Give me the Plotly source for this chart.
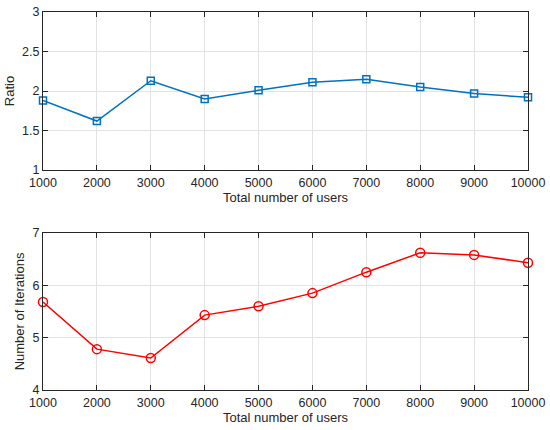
import plotly.graph_objects as go
from plotly.subplots import make_subplots

users = [1000, 2000, 3000, 4000, 5000, 6000, 7000, 8000, 9000, 10000]
ratio = [1.88, 1.62, 2.13, 1.90, 2.01, 2.11, 2.15, 2.05, 1.97, 1.92]
iterations = [5.68, 4.78, 4.61, 5.43, 5.60, 5.85, 6.25, 6.62, 6.58, 6.43]
x_ticks = users
top_y_ticks = [1, 1.5, 2, 2.5, 3]
bot_y_ticks = [4, 5, 6, 7]

FONT = "Liberation Sans, Arial, Helvetica, sans-serif"
AX = "#262626"
GRID = "#e3e3e3"

fig = make_subplots(rows=2, cols=1)

fig.add_trace(go.Scatter(x=users, y=ratio, mode="lines+markers",
                         line=dict(color="#0072BD", width=1.5),
                         marker=dict(symbol="square-open", size=7, color="#0072BD",
                                     line=dict(width=1.5, color="#0072BD")),
                         cliponaxis=False, showlegend=False), row=1, col=1)
fig.add_trace(go.Scatter(x=users, y=iterations, mode="lines+markers",
                         line=dict(color="#FF0000", width=1.5),
                         marker=dict(symbol="circle-open", size=9, color="#FF0000",
                                     line=dict(width=1.5, color="#FF0000")),
                         cliponaxis=False, showlegend=False), row=2, col=1)

common_x = dict(range=[1000, 10000], tickvals=x_ticks, ticktext=[str(v) for v in x_ticks],
                showline=True, linecolor=AX, linewidth=1, mirror="ticks",
                ticks="inside", ticklen=5, tickcolor=AX, ticklabelstandoff=1,
                showgrid=True, gridcolor=GRID, gridwidth=1, zeroline=False,
                tickfont=dict(family=FONT, size=12.5, color=AX),
                title=dict(text="Total number of users", standoff=1,
                           font=dict(family=FONT, size=13, color=AX)))
common_y = dict(showline=True, linecolor=AX, linewidth=1, mirror="ticks",
                ticks="inside", ticklen=5, tickcolor=AX,
                showgrid=True, gridcolor=GRID, gridwidth=1, zeroline=False,
                tickfont=dict(family=FONT, size=12.5, color=AX))

fig.update_xaxes(**common_x, row=1, col=1)
fig.update_xaxes(**common_x, row=2, col=1)
fig.update_yaxes(**common_y, range=[1, 3], tickvals=top_y_ticks,
                 ticktext=["1", "1.5", "2", "2.5", "3"],
                 title=dict(text="Ratio", standoff=4, font=dict(family=FONT, size=13, color=AX)),
                 row=1, col=1)
fig.update_yaxes(**common_y, range=[4, 7], tickvals=bot_y_ticks,
                 ticktext=[str(v) for v in bot_y_ticks],
                 title=dict(text="Number of Iterations", standoff=4, font=dict(family=FONT, size=13, color=AX)),
                 row=2, col=1)

fig.update_layout(
    width=550, height=430,
    margin=dict(l=43, r=18, t=5, b=40),
    paper_bgcolor="white", plot_bgcolor="white",
    font=dict(family=FONT, color=AX),
)
fig.layout.yaxis.domain = [0.5818, 1.0]
fig.layout.yaxis2.domain = [0.0, 0.4156]

fig.write_html("out.html")
